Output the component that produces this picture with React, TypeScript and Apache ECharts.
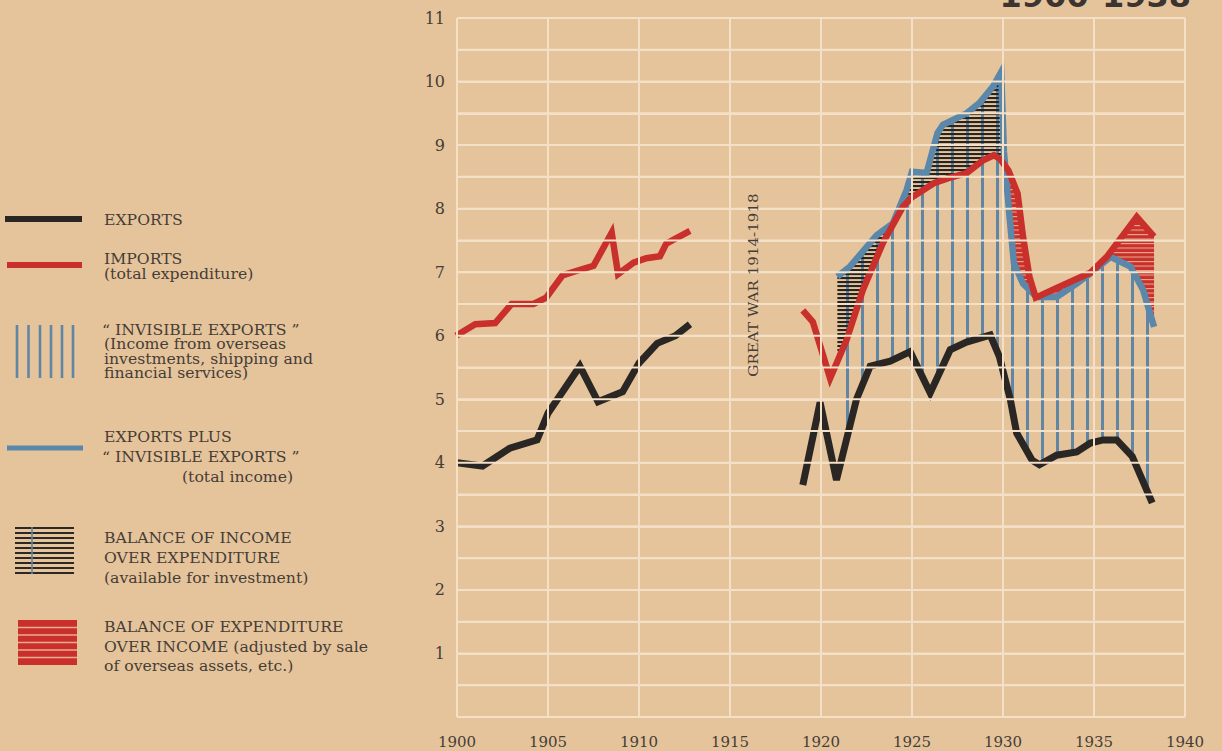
import React, { useEffect, useRef } from "react";
import * as echarts from "echarts";

// ---------- DATA (values in £100 millions, years on x) ----------
const yearTicks = [1900, 1905, 1910, 1915, 1920, 1925, 1930, 1935, 1940];
const valueTicks = [1, 2, 3, 4, 5, 6, 7, 8, 9, 10, 11];
const halfGridLevels = [0, 0.5, 1, 1.5, 2, 2.5, 3, 3.5, 4, 4.5, 5, 5.5, 6, 6.5, 7, 7.5, 8, 8.5, 9, 9.5, 10, 10.5, 11];

const exportsPreYears = [1900, 1901.4, 1902.9, 1904.4, 1905.0, 1906.75, 1907.75, 1909.1, 1910.0, 1911.0, 1912.0, 1912.8];
const exportsPreValues = [4.0, 3.95, 4.23, 4.36, 4.78, 5.52, 4.96, 5.12, 5.57, 5.88, 6.0, 6.18];

const importsPreYears = [1899.95, 1901.0, 1902.1, 1903.0, 1904.2, 1904.9, 1905.8, 1906.9, 1907.5, 1908.5, 1908.85, 1909.7, 1910.4, 1911.15, 1911.5, 1912.8];
const importsPreValues = [6.0, 6.18, 6.2, 6.5, 6.5, 6.6, 6.95, 7.05, 7.1, 7.62, 6.97, 7.15, 7.22, 7.25, 7.45, 7.65];

const exportsPostYears = [1919.0, 1919.95, 1920.85, 1921.95, 1922.7, 1923.8, 1924.9, 1926.0, 1927.1, 1928.0, 1929.3, 1929.8, 1930.4, 1930.75, 1931.6, 1932.0, 1932.95, 1934.05, 1934.8, 1935.5, 1936.25, 1937.1, 1938.2];
const exportsPostValues = [3.65, 4.95, 3.73, 5.0, 5.52, 5.6, 5.75, 5.1, 5.78, 5.9, 6.01, 5.67, 5.0, 4.47, 4.04, 3.97, 4.12, 4.17, 4.31, 4.36, 4.36, 4.1, 3.37];

const importsPostYears = [1919.0, 1919.55, 1920.5, 1921.4, 1922.3, 1923.4, 1924.5, 1925.0, 1926.2, 1927.0, 1928.0, 1928.9, 1929.5, 1929.85, 1930.3, 1930.8, 1931.1, 1931.45, 1931.8, 1932.95, 1934.8, 1935.7, 1937.35, 1938.3];
const importsPostValues = [6.4, 6.22, 5.33, 5.93, 6.72, 7.46, 8.03, 8.18, 8.4, 8.48, 8.56, 8.76, 8.84, 8.78, 8.6, 8.24, 7.56, 6.93, 6.6, 6.75, 6.99, 7.24, 7.87, 7.56];

const incomeYears = [1920.9, 1921.6, 1923.05, 1923.95, 1924.7, 1925.0, 1925.8, 1926.4, 1926.7, 1928.0, 1928.7, 1929.45, 1929.9, 1930.05, 1930.35, 1930.6, 1931.1, 1931.85, 1932.95, 1934.05, 1934.8, 1935.9, 1937.0, 1937.7, 1938.3];
const incomeValues = [6.93, 7.09, 7.58, 7.77, 8.29, 8.58, 8.56, 9.19, 9.32, 9.5, 9.66, 9.92, 10.15, 8.9, 7.9, 7.14, 6.82, 6.61, 6.61, 6.82, 6.98, 7.24, 7.09, 6.72, 6.14];

// periods of the shaded balances
const invisiblePeriod = [1920.9, 1938.3];
const surplusPeriod = [1920.9, 1930.07];
const deficitPeriod = [1930.07, 1938.3];

// ---------- STYLE ----------
const BG = "#e5c49c";
const GRIDC = "#f4e0c6";
const TXT = "#463d36";
const BLACK = "#2a2624";
const RED = "#c9302b";
const BLUE = "#5b87aa";
const STRIPE = "#5f86a4";
const SERIF = '"DejaVu Serif", serif';
const WIDE = 1.12;

function svgPattern(w: number, h: number, inner: string) {
  const svg = `<svg xmlns="http://www.w3.org/2000/svg" width="${w}" height="${h}">${inner}</svg>`;
  return {
    image: "data:image/svg+xml;base64," + btoa(svg),
    repeat: "repeat",
    imageWidth: w,
    imageHeight: h,
  } as any;
}

const stripePattern = svgPattern(15, 8, `<rect x="6" y="0" width="3" height="8" fill="${STRIPE}"/>`);
const hatchPattern = svgPattern(8, 4, `<rect x="0" y="1" width="8" height="2.1" fill="#272422"/>`);
const redPattern = svgPattern(8, 4.5, `<rect x="0" y="0" width="8" height="4.5" fill="${RED}"/><rect x="0" y="0" width="8" height="1.1" fill="#e9a88c"/>`);

function interp(xs: number[], ys: number[], x: number) {
  if (x <= xs[0]) return ys[0];
  for (let i = 1; i < xs.length; i++) {
    if (x <= xs[i]) {
      const t = (x - xs[i - 1]) / (xs[i] - xs[i - 1]);
      return ys[i - 1] + t * (ys[i] - ys[i - 1]);
    }
  }
  return ys[ys.length - 1];
}

function segment(xs: number[], ys: number[], a: number, b: number) {
  const pts: number[][] = [[a, interp(xs, ys, a)]];
  for (let i = 0; i < xs.length; i++) if (xs[i] > a && xs[i] < b) pts.push([xs[i], ys[i]]);
  pts.push([b, interp(xs, ys, b)]);
  return pts;
}

function band(name: string, up: [number[], number[]], lo: [number[], number[]], period: number[], fill: any, z: number) {
  const [a, b] = period;
  return {
    type: "custom",
    name,
    z,
    silent: true,
    coordinateSystem: "cartesian2d",
    data: [[a, 0]],
    renderItem: (_p: any, api: any) => {
      const top = segment(up[0], up[1], a, b).map((p) => api.coord(p));
      const bot = segment(lo[0], lo[1], a, b).reverse().map((p) => api.coord(p));
      return { type: "polygon", shape: { points: top.concat(bot) }, style: { fill, stroke: null } };
    },
  };
}

function pairs(xs: number[], ys: number[]) {
  return xs.map((x, i) => [x, ys[i]]);
}

function lineSeries(name: string, xs: number[], ys: number[], color: string, width: number, z: number) {
  return {
    type: "line",
    name,
    z,
    data: pairs(xs, ys),
    symbol: "none",
    silent: true,
    lineStyle: { color, width, join: "miter", cap: "butt" },
  };
}

// light ruling of the paper, drawn over the marks as in the printed original
function rulingSeries() {
  const items = [
    ...halfGridLevels.map((v) => [1900, v, 0]),
    ...yearTicks.map((v) => [v, 0, 1]),
  ];
  return {
    type: "custom",
    name: "ruling",
    z: 20,
    silent: true,
    coordinateSystem: "cartesian2d",
    data: items,
    renderItem: (_params: any, api: any) => {
      const x = api.value(0);
      const y = api.value(1);
      const vertical = api.value(2) === 1;
      const a = api.coord([x, y]);
      const b = vertical ? api.coord([x, 11]) : api.coord([1940, y]);
      return {
        type: "line",
        shape: { x1: a[0], y1: a[1], x2: b[0], y2: b[1] },
        style: { stroke: GRIDC, lineWidth: 2 },
      };
    },
  };
}

function txt(text: string, x: number, y: number, size = 14) {
  return {
    type: "text",
    z: 100,
    x,
    y,
    scaleX: WIDE,
    style: { text, x: 0, y: 0, fill: TXT, fontFamily: SERIF, fontSize: size, verticalAlign: "middle", align: "left" },
  };
}

function legendGraphics() {
  const g: any[] = [];
  g.push({ type: "line", z: 100, shape: { x1: 5, y1: 219, x2: 82, y2: 219 }, style: { stroke: BLACK, lineWidth: 6 } });
  g.push({ type: "line", z: 100, shape: { x1: 7, y1: 265, x2: 82, y2: 265 }, style: { stroke: RED, lineWidth: 6 } });
  [17, 28.5, 40, 51, 62, 73].forEach((x) =>
    g.push({ type: "line", z: 100, shape: { x1: x, y1: 325, x2: x, y2: 378 }, style: { stroke: STRIPE, lineWidth: 2.6 } })
  );
  g.push({ type: "line", z: 100, shape: { x1: 7, y1: 448, x2: 83, y2: 448 }, style: { stroke: BLUE, lineWidth: 5 } });
  for (let i = 0; i < 10; i++) {
    const y = 528 + i * 5;
    g.push({ type: "line", z: 100, shape: { x1: 15, y1: y, x2: 74, y2: y }, style: { stroke: "#2b2826", lineWidth: 2.2 } });
  }
  g.push({ type: "line", z: 101, shape: { x1: 32, y1: 527, x2: 32, y2: 574 }, style: { stroke: STRIPE, lineWidth: 1.6 } });
  g.push({ type: "rect", z: 100, shape: { x: 18, y: 620, width: 59, height: 45 }, style: { fill: RED } });
  for (let i = 1; i < 6; i++) {
    const y = 620 + i * 7.5;
    g.push({ type: "line", z: 101, shape: { x1: 18, y1: y, x2: 77, y2: y }, style: { stroke: "#e9ad92", lineWidth: 1.3 } });
  }
  g.push(txt("EXPORTS", 104, 220));
  g.push(txt("IMPORTS", 104, 259.5));
  g.push(txt("(total expenditure)", 104, 274));
  g.push(txt("\u201C INVISIBLE EXPORTS \u201D", 102, 330));
  g.push(txt("(Income from overseas", 104, 344.5));
  g.push(txt("investments, shipping and", 104, 359));
  g.push(txt("financial services)", 104, 373.5));
  g.push(txt("EXPORTS PLUS", 104, 437));
  g.push(txt("\u201C INVISIBLE EXPORTS \u201D", 102, 457));
  g.push(txt("(total income)", 182, 477));
  g.push(txt("BALANCE OF INCOME", 104, 538));
  g.push(txt("OVER EXPENDITURE", 104, 558));
  g.push(txt("(available for investment)", 104, 578));
  g.push(txt("BALANCE OF EXPENDITURE", 104, 627));
  g.push(txt("OVER INCOME (adjusted by sale", 104, 647));
  g.push(txt("of overseas assets, etc.)", 104, 666));
  g.push({
    type: "text",
    z: 100,
    x: 753,
    y: 285,
    rotation: Math.PI / 2,
    scaleX: WIDE,
    style: { text: "GREAT WAR 1914-1918", x: 0, y: 0, fill: TXT, fontFamily: SERIF, fontSize: 13.5, align: "center", verticalAlign: "middle" },
  });
  g.push({
    type: "text",
    z: 100,
    style: {
      text: "1900-1938",
      x: 1191,
      y: -4,
      fill: "#3b3430",
      fontFamily: '"DejaVu Sans", sans-serif',
      fontWeight: "bold",
      fontSize: 32,
      align: "right",
      verticalAlign: "middle",
    },
  });
  return g;
}

export default function App() {
  const ref = useRef<HTMLDivElement>(null);
  useEffect(() => {
    if (!ref.current) return;
    const chart = echarts.init(ref.current, undefined, { renderer: "svg" });
    const gridLine = { color: GRIDC, width: 2, type: "solid" };
    const option: any = {
      animation: false,
      backgroundColor: BG,
      grid: { left: 457, right: 37, top: 18, bottom: 34, containLabel: false },
      xAxis: {
        type: "value",
        min: 1900,
        max: 1940,
        interval: 5,
        axisLine: { show: false },
        axisTick: { show: false },
        splitLine: { show: true, lineStyle: gridLine },
        axisLabel: {
          color: TXT,
          fontFamily: SERIF,
          fontSize: 15,
          margin: 17,
          formatter: (v: number) => (yearTicks.includes(v) ? String(v) : ""),
        },
      },
      yAxis: {
        type: "value",
        min: 0,
        max: 11,
        interval: 0.5,
        axisLine: { show: false },
        axisTick: { show: false },
        splitLine: { show: true, lineStyle: gridLine },
        axisLabel: {
          color: TXT,
          fontFamily: SERIF,
          fontSize: 16,
          margin: 12,
          formatter: (v: number) => (valueTicks.includes(v) ? String(v) : ""),
        },
      },
      graphic: legendGraphics(),
      series: [
        band("Invisible exports", [incomeYears, incomeValues], [exportsPostYears, exportsPostValues], invisiblePeriod, stripePattern, 1),
        band("Balance of income over expenditure", [incomeYears, incomeValues], [importsPostYears, importsPostValues], surplusPeriod, hatchPattern, 2),
        band("Balance of expenditure over income", [importsPostYears, importsPostValues], [incomeYears, incomeValues], deficitPeriod, redPattern, 2),
        lineSeries("Total income", incomeYears, incomeValues, BLUE, 6.5, 3),
        lineSeries("Imports", importsPreYears, importsPreValues, RED, 6.5, 4),
        lineSeries("Imports post-war", importsPostYears, importsPostValues, RED, 6.5, 4),
        lineSeries("Exports", exportsPreYears, exportsPreValues, BLACK, 7, 5),
        lineSeries("Exports post-war", exportsPostYears, exportsPostValues, BLACK, 7, 5),
        rulingSeries(),
      ],
    };
    chart.setOption(option);
    return () => chart.dispose();
  }, []);
  return <div ref={ref} style={{ position: "fixed", left: 0, top: 0, width: 1222, height: 751 }} />;
}
